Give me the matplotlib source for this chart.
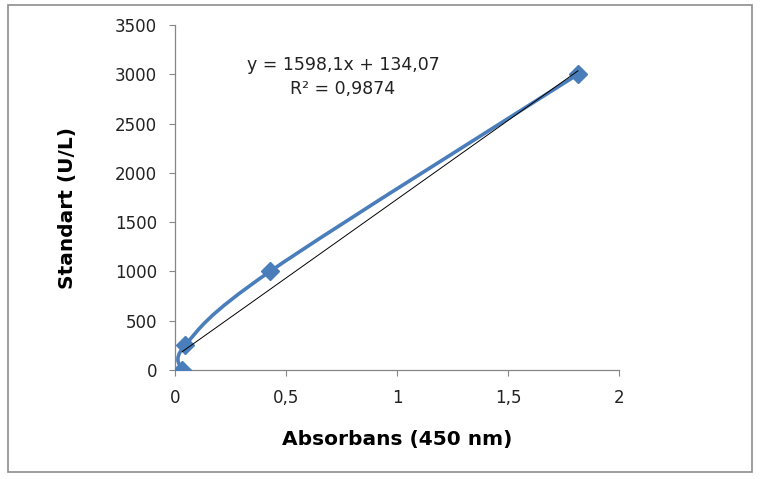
import numpy as np
import matplotlib.pyplot as plt
from matplotlib.path import Path
from matplotlib.patches import PathPatch, Rectangle

absorbans = [0.033, 0.045, 0.428, 1.815]
standart = [0, 250, 1000, 3000]
slope = 1598.1
intercept = 134.07
r2 = 0.9874
xticks = [0, 0.5, 1, 1.5, 2]
yticks = [0, 500, 1000, 1500, 2000, 2500, 3000, 3500]

plt.rcParams['font.family'] = ['DejaVu Sans']
blue = '#4A7EBB'
gray = '#868686'

fig = plt.figure(figsize=(7.6, 4.79), dpi=100)
fig.patches.append(Rectangle((8/760, 1-472/479), 744/760, 467/479, transform=fig.transFigure,
                             fill=False, edgecolor='#8C8C8C', linewidth=1.2))
ax = fig.add_axes([175/760, 1-370/479, 444/760, 345/479])

# excel-style smoothed line (catmull-rom bezier through the points)
pts = np.column_stack([absorbans, standart]).astype(float)
verts = [pts[0]]
codes = [Path.MOVETO]
n = len(pts)
for i in range(n - 1):
    p0 = pts[i - 1] if i > 0 else pts[i]
    p1 = pts[i]
    p2 = pts[i + 1]
    p3 = pts[i + 2] if i + 2 < n else pts[i + 1]
    c1 = p1 + (p2 - p0) / 6
    c2 = p2 - (p3 - p1) / 6
    verts += [c1, c2, p2]
    codes += [Path.CURVE4] * 3
ax.add_patch(PathPatch(Path(verts, codes), fill=False, edgecolor=blue, linewidth=2.6,
                       capstyle='round', joinstyle='round', zorder=2))
ax.plot(absorbans, standart, linestyle='none', marker='D', markersize=9,
        color=blue, zorder=3)

# linear trendline
tx = np.array([min(absorbans), max(absorbans)])
ax.plot(tx, slope * tx + intercept, color='black', linewidth=0.7, zorder=4)

fig.text(343/760, 1-65/479, 'y = 1598,1x + 134,07', ha='center', va='center',
         fontsize=12.5, color='#222222')
fig.text(343/760, 1-89/479, f'R² = {r2}'.replace('.', ','), ha='center', va='center',
         fontsize=12.5, color='#222222')

ax.set_xlim(0, 2)
ax.set_ylim(0, 3500)
ax.set_xticks(xticks)
ax.set_xticklabels([str(t).replace('.', ',') if t % 1 else str(int(t)) for t in xticks])
ax.set_yticks(yticks)
ax.set_yticklabels([str(t) for t in yticks])
ax.tick_params(axis='both', labelsize=12, labelcolor='#222222', length=4, width=0.8,
               direction='out', color=gray)
ax.tick_params(axis='x', pad=10)
ax.tick_params(axis='y', pad=9)
for s in ['top', 'right']:
    ax.spines[s].set_visible(False)
for s in ['left', 'bottom']:
    ax.spines[s].set_color(gray)
    ax.spines[s].set_linewidth(0.9)

ax.set_xlabel('Absorbans (450 nm)', fontsize=14.5, fontweight='bold', va='center')
ax.xaxis.set_label_coords(0.5, (370-439)/345)
ax.set_ylabel('Standart (U/L)', fontsize=14.5, fontweight='bold', va='center')
ax.yaxis.set_label_coords((68-175)/444, (370-208)/345)

fig.savefig('out.png', dpi=100)
